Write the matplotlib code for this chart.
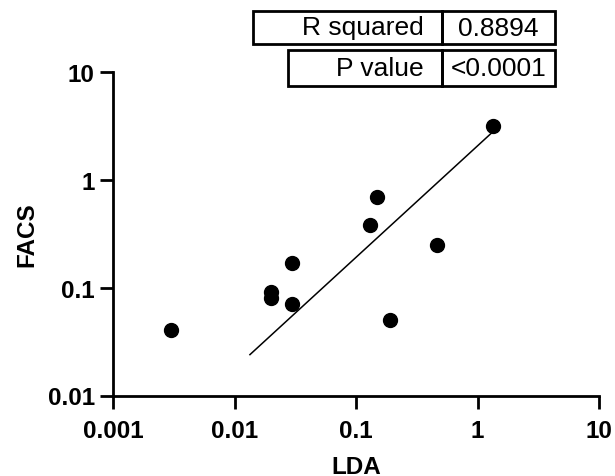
import matplotlib
matplotlib.use("Agg")
import matplotlib.pyplot as plt
from matplotlib.patches import Rectangle
from matplotlib.ticker import FixedLocator, FixedFormatter, NullLocator

plt.rcParams['font.family'] = ['Liberation Sans', 'DejaVu Sans']

# Data
lda = [0.003, 0.02, 0.02, 0.03, 0.03, 0.13, 0.15, 0.19, 0.46, 1.34]
facs = [0.04, 0.09, 0.08, 0.17, 0.07, 0.38, 0.69, 0.05, 0.25, 3.1]
fit_x = [0.0134, 1.34]
fit_y = [0.0239, 2.77]
x_ticks = [0.001, 0.01, 0.1, 1, 10]
x_tick_labels = ["0.001", "0.01", "0.1", "1", "10"]
y_ticks = [0.01, 0.1, 1, 10]
y_tick_labels = ["0.01", "0.1", "1", "10"]
table_labels = ["R squared", "P value"]
table_values = ["0.8894", "<0.0001"]

W, H = 615, 477
fig = plt.figure(figsize=(W / 100, H / 100), dpi=100)
ax = fig.add_axes([113 / W, 1 - 396.5 / H, (599 - 113) / W, (396.5 - 72.5) / H])

ax.set_xscale('log')
ax.set_yscale('log')
ax.set_xlim(0.001, 10)
ax.set_ylim(0.01, 10)

ax.plot(fit_x, fit_y, color='black', lw=1.1, zorder=2)
ax.plot(lda, facs, 'o', color='black', markersize=10, zorder=3, clip_on=False)

for s in ['top', 'right']:
    ax.spines[s].set_visible(False)
for s in ['left', 'bottom']:
    ax.spines[s].set_linewidth(2)

ax.xaxis.set_major_locator(FixedLocator(x_ticks))
ax.xaxis.set_major_formatter(FixedFormatter(x_tick_labels))
ax.yaxis.set_major_locator(FixedLocator(y_ticks))
ax.yaxis.set_major_formatter(FixedFormatter(y_tick_labels))
ax.xaxis.set_minor_locator(NullLocator())
ax.yaxis.set_minor_locator(NullLocator())
ax.tick_params(axis='both', which='major', direction='out', length=9.5, width=2,
               labelsize=17.5)
ax.tick_params(axis='x', pad=7.3)
ax.tick_params(axis='y', pad=3.6)
for lbl in ax.get_xticklabels() + ax.get_yticklabels():
    lbl.set_fontweight('bold')

ax.set_xlabel("LDA", fontsize=17.5, fontweight='bold', labelpad=9.3)
ax.set_ylabel("FACS", fontsize=17.5, fontweight='bold', labelpad=7)


def fx(x):
    return x / W


def fy(y):
    return 1 - y / H


# table boxes: (left, top, bottom)
rows = [(253, 12, 45), (288, 51, 87)]
divider = 442
right = 555
for (l, t, b), lab, val in zip(rows, table_labels, table_values):
    for (x0, x1) in [(l, divider), (divider, right)]:
        fig.add_artist(Rectangle((fx(x0), fy(b)), fx(x1) - fx(x0), fy(t) - fy(b),
                                 transform=fig.transFigure, fill=False,
                                 edgecolor='black', lw=2))
    yc = fy((t + b) / 2)
    fig.text(fx(divider - 18), yc, lab, fontsize=19, ha='right', va='center')
    fig.text(fx((divider + right) / 2), yc, val, fontsize=19, ha='center', va='center')

fig.savefig("out.png", dpi=100)
